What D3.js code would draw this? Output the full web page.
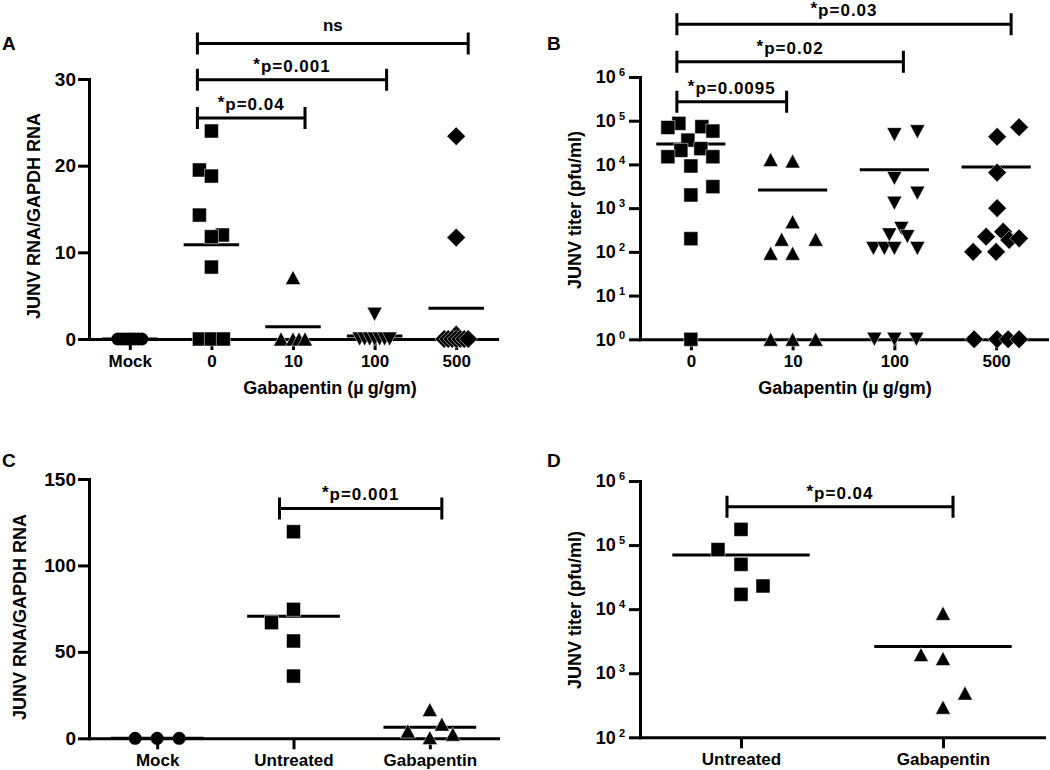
<!DOCTYPE html>
<html>
<head>
<meta charset="utf-8">
<script src="https://cdn.jsdelivr.net/npm/d3@7"></script>
<style>
  html, body { margin: 0; padding: 0; background: #fff; }
  svg { display: block; }
  text { font-family: "Liberation Sans", Arial, sans-serif; font-weight: bold; fill: #000; }
</style>
</head>
<body>
<svg id="chart" width="1050" height="770"></svg>
<script>
'use strict';

// ---- panel A : JUNV RNA / GAPDH RNA by dose
const A_groups = ['Mock', '0', '10', '100', '500'];
const A_ticks = [0, 10, 20, 30];
const A_mock = [0, 0, 0, 0, 0, 0, 0, 0];
const A_d0 = [24.0, 19.5, 18.8, 14.3, 12.0, 11.8, 8.3, 0, 0, 0];
const A_d10 = [7.1, 0, 0, 0, 0];
const A_d100 = [2.85, 0, 0, 0, 0, 0, 0, 0];
const A_d500 = [23.4, 11.7, 0.5, 0, 0, 0, 0, 0, 0, 0];

// ---- panel B : JUNV titer by dose (log)
const B_groups = ['0', '10', '100', '500'];
const B_ticks = [1, 1e1, 1e2, 1e3, 1e4, 1e5, 1e6];
const B_d0 = [87000, 70000, 73000, 58000, 36000, 21000, 23000, 15000, 15000, 9200, 3100, 2000, 200, 1];
const B_d10 = [13000, 12000, 490, 194, 194, 93, 93, 1, 1, 1];
const B_d100 = [48000, 56000, 4800, 2200, 1300, 345, 245, 223, 120, 120, 120, 120, 1, 1, 1];
const B_d500 = [71000, 43000, 6500, 1000, 290, 223, 187, 204, 100, 100, 1, 1, 1, 1];

// ---- panel C : RNA, untreated vs gabapentin
const C_groups = ['Mock', 'Untreated', 'Gabapentin'];
const C_ticks = [0, 50, 100, 150];
const C_mock = [0, 0, 0];
const C_untreated = [119.5, 74.6, 66.9, 56.3, 36.0];
const C_gaba = [16.6, 8.2, 4.2, 2.4, 0.4];

// ---- panel D : titer, untreated vs gabapentin (log)
const D_groups = ['Untreated', 'Gabapentin'];
const D_ticks = [1e2, 1e3, 1e4, 1e5, 1e6];
const D_untreated = [176000, 85000, 50000, 23000, 17000];
const D_gaba = [8600, 1950, 1700, 490, 295];

// significance brackets: from group, to group, text, level (data units)
const A_brackets = [
    { from: '0', to: '10', label: '*p=0.04', level: 25.5 },
    { from: '0', to: '100', label: '*p=0.001', level: 29.9 },
    { from: '0', to: '500', label: 'ns', level: 34.1 }
];
const B_brackets = [
    { from: '0', to: '10', label: '*p=0.0095', level: 2.72e5 },
    { from: '0', to: '100', label: '*p=0.02', level: 2.24e6 },
    { from: '0', to: '500', label: '*p=0.03', level: 1.6e7 }
];
const C_brackets = [{ from: 'Untreated', to: 'Gabapentin', label: '*p=0.001', level: 133 }];
const D_brackets = [{ from: 'Untreated', to: 'Gabapentin', label: '*p=0.04', level: 3.97e5 }];

// ---- layout: horizontal scatter offsets (px) of the points, same order as the values
const A_mock_dx = [-12, -8.5, -5, -1.5, 1.5, 5, 8.5, 12];
const A_d0_dx = [0, -12, 0, -12, 11, 0, 0, -12, 0, 12];
const A_d10_dx = [0, -12, 0, 6, 12];
const A_d100_dx = [0, -15, -10, -5, 0, 5, 10, 15];
const A_d500_dx = [0, 0, 0, -12, -8, -4, 0, 4, 8, 12];
const B_d0_dx = [-12, -23, 11, 22, -3, -10, 10, -23, 22, 0, 22, 0, 0, 0];
const B_d10_dx = [-22, 0, 0, -11, 23, -22, 0, -22, 0, 23];
const B_d100_dx = [0, 23, 0, 23, 0, 7, -5, 13, -21, -10, 0, 23, -20, 0, 22];
const B_d500_dx = [23, 1, 1, 1, 7, -10, 13, 23, -23, 0, -22, 1, 12, 23];
const C_mock_dx = [-22, 0, 22];
const C_untreated_dx = [0, 0, -22, 0, 0];
const C_gaba_dx = [0, 12, -22, 23, 0];
const D_untreated_dx = [0, -23, 0, 22, 0];
const D_gaba_dx = [0, -22, 0, 22, 0];

// marker shapes (centred on their bounding box)
const shapes = {
    circle: { draw(ctx, r) { ctx.moveTo(r, 0); ctx.arc(0, 0, r, 0, 2 * Math.PI); } },
    square: { draw(ctx, r) { ctx.rect(-r, -r, 2 * r, 2 * r); } },
    up: { draw(ctx, r) { const h = r * 0.93; ctx.moveTo(0, -h); ctx.lineTo(r, h); ctx.lineTo(-r, h); ctx.closePath(); } },
    down: { draw(ctx, r) { const h = r * 0.93; ctx.moveTo(0, h); ctx.lineTo(r, -h); ctx.lineTo(-r, -h); ctx.closePath(); } },
    diamond: { draw(ctx, r) { ctx.moveTo(0, -r); ctx.lineTo(r, 0); ctx.lineTo(0, r); ctx.lineTo(-r, 0); ctx.closePath(); } }
};
const shapeSize = { circle: 6.5, square: 7, up: 7.5, down: 7.5, diamond: 9.3 };

const svg = d3.select('#chart');
const FONT = '"Liberation Sans", Arial, sans-serif';

function drawPanel(cfg) {
    const g = svg.append('g');

    const x = d3.scalePoint().domain(cfg.groups).range(cfg.xRange).padding(0.5);
    const y = (cfg.log ? d3.scaleLog() : d3.scaleLinear()).domain(cfg.yDomain).range(cfg.yRange);
    const half = x.step() * 0.34;

    // y axis
    const yAxis = d3.axisLeft(y)
        .tickValues(cfg.yTicks)
        .tickSize(11)
        .tickPadding(cfg.log ? 4 : 2)
        .tickSizeOuter(0)
        .tickFormat(cfg.log ? () => '10' : d3.format('d'));
    const ya = g.append('g')
        .attr('transform', `translate(${cfg.xRange[0]},0)`)
        .call(yAxis)
        .attr('font-family', FONT).attr('font-size', cfg.log ? 18 : 19).attr('font-weight', 'bold');
    if (cfg.log) {
        ya.selectAll('.tick text').append('tspan')
            .attr('font-size', 11).attr('dx', 3).attr('dy', -7)
            .text(d => Math.round(Math.log10(d)));
    }

    // x axis
    const xa = g.append('g')
        .attr('transform', `translate(0,${cfg.yRange[0]})`)
        .call(d3.axisBottom(x).tickSize(11).tickPadding(5).tickSizeOuter(0))
        .attr('font-family', FONT).attr('font-size', 17).attr('font-weight', 'bold');

    [ya, xa].forEach(a => {
        a.select('.domain').attr('stroke', '#000').attr('stroke-width', 3).attr('stroke-linecap', 'square');
        a.selectAll('.tick line').attr('stroke', '#000').attr('stroke-width', 3);
        a.selectAll('.tick text').attr('fill', '#000');
    });

    // group means
    g.selectAll('line.mean')
        .data(cfg.series)
        .join('line')
        .attr('class', 'mean')
        .attr('x1', d => x(d.group) - half)
        .attr('x2', d => x(d.group) + half)
        .attr('y1', d => y(d3.mean(d.values)))
        .attr('y2', d => y(d3.mean(d.values)))
        .attr('stroke', '#000')
        .attr('stroke-width', 3);

    // points
    cfg.series.forEach(s => {
        const pts = s.values.map((v, i) => ({ v, dx: s.dx[i] }));
        g.append('g').selectAll('path')
            .data(pts)
            .join('path')
            .attr('transform', d => `translate(${x(s.group) + d.dx},${y(d.v)})`)
            .attr('d', d3.symbol().type(shapes[s.shape]).size(shapeSize[s.shape]))
            .attr('fill', '#000')
            .attr('stroke', s.shape === 'circle' ? 'none' : '#fff')
            .attr('stroke-width', 0.5);
    });

    // significance brackets
    cfg.brackets.forEach((b, i) => {
        const x1 = x(b.from) - 14;
        const x2 = x(b.to) + (cfg.endNudge ? cfg.endNudge[i] : 12);
        const ly = y(b.level);
        g.append('path')
            .attr('d', `M${x1},${ly - 11}V${ly + 11}M${x1},${ly}H${x2}M${x2},${ly - 11}V${ly + 11}`)
            .attr('fill', 'none')
            .attr('stroke', '#000')
            .attr('stroke-width', 3);
        const t = g.append('text')
            .attr('x', (x1 + x2) / 2)
            .attr('y', ly - (b.label === 'ns' ? 12 : 8))
            .attr('text-anchor', 'middle')
            .attr('font-size', 17)
            .attr('letter-spacing', b.label === 'ns' ? 0 : 1);
        if (b.label.startsWith('*')) {
            t.append('tspan').attr('dy', -2).text('*');
            t.append('tspan').attr('dy', 2).text(b.label.slice(1));
        } else {
            t.text(b.label);
        }
    });

    // panel letter
    g.append('text')
        .attr('x', cfg.letterPos[0]).attr('y', cfg.letterPos[1])
        .attr('font-size', 19)
        .text(cfg.letter);

    // y title
    g.append('text')
        .attr('transform', `translate(${cfg.yTitlePos[0]},${cfg.yTitlePos[1]}) rotate(-90)`)
        .attr('text-anchor', 'middle')
        .attr('font-size', 18)
        .text(cfg.yTitle);

    // x title
    if (cfg.xTitlePos) {
        const t = g.append('text')
            .attr('x', cfg.xTitlePos[0]).attr('y', cfg.xTitlePos[1])
            .attr('text-anchor', 'middle')
            .attr('font-size', 18);
        t.append('tspan').text('Gabapentin (\u00b5');
        t.append('tspan').attr('dx', 4).text('g/gm)');
    }
}

drawPanel({
    letter: 'A', letterPos: [2, 50],
    groups: A_groups, xRange: [89, 497],
    yDomain: [0, 30], yRange: [339, 79], yTicks: A_ticks,
    yTitle: 'JUNV RNA/GAPDH RNA', yTitlePos: [40, 216],
    xTitlePos: [330, 394],
    series: [
        { group: 'Mock', values: A_mock, dx: A_mock_dx, shape: 'circle' },
        { group: '0', values: A_d0, dx: A_d0_dx, shape: 'square' },
        { group: '10', values: A_d10, dx: A_d10_dx, shape: 'up' },
        { group: '100', values: A_d100, dx: A_d100_dx, shape: 'down' },
        { group: '500', values: A_d500, dx: A_d500_dx, shape: 'diamond' }
    ],
    brackets: A_brackets
});

drawPanel({
    letter: 'B', letterPos: [547, 50],
    groups: B_groups, xRange: [640, 1047],
    log: true, yDomain: [1, 1e6], yRange: [339.3, 77], yTicks: B_ticks,
    yTitle: 'JUNV titer (pfu/ml)', yTitlePos: [581, 210],
    xTitlePos: [845, 394],
    series: [
        { group: '0', values: B_d0, dx: B_d0_dx, shape: 'square' },
        { group: '10', values: B_d10, dx: B_d10_dx, shape: 'up' },
        { group: '100', values: B_d100, dx: B_d100_dx, shape: 'down' },
        { group: '500', values: B_d500, dx: B_d500_dx, shape: 'diamond' }
    ],
    brackets: B_brackets, endNudge: [-6, 9, 15]
});

drawPanel({
    letter: 'C', letterPos: [2, 467],
    groups: C_groups, xRange: [89, 498],
    yDomain: [0, 150], yRange: [738.3, 479], yTicks: C_ticks,
    yTitle: 'JUNV RNA/GAPDH RNA', yTitlePos: [26, 617],
    series: [
        { group: 'Mock', values: C_mock, dx: C_mock_dx, shape: 'circle' },
        { group: 'Untreated', values: C_untreated, dx: C_untreated_dx, shape: 'square' },
        { group: 'Gabapentin', values: C_gaba, dx: C_gaba_dx, shape: 'up' }
    ],
    brackets: C_brackets
});

drawPanel({
    letter: 'D', letterPos: [547, 467],
    groups: D_groups, xRange: [640, 1044],
    log: true, yDomain: [1e2, 1e6], yRange: [737.3, 481], yTicks: D_ticks,
    yTitle: 'JUNV titer (pfu/ml)', yTitlePos: [581, 610],
    series: [
        { group: 'Untreated', values: D_untreated, dx: D_untreated_dx, shape: 'square' },
        { group: 'Gabapentin', values: D_gaba, dx: D_gaba_dx, shape: 'up' }
    ],
    brackets: D_brackets, endNudge: [10]
});
</script>
</body>
</html>
